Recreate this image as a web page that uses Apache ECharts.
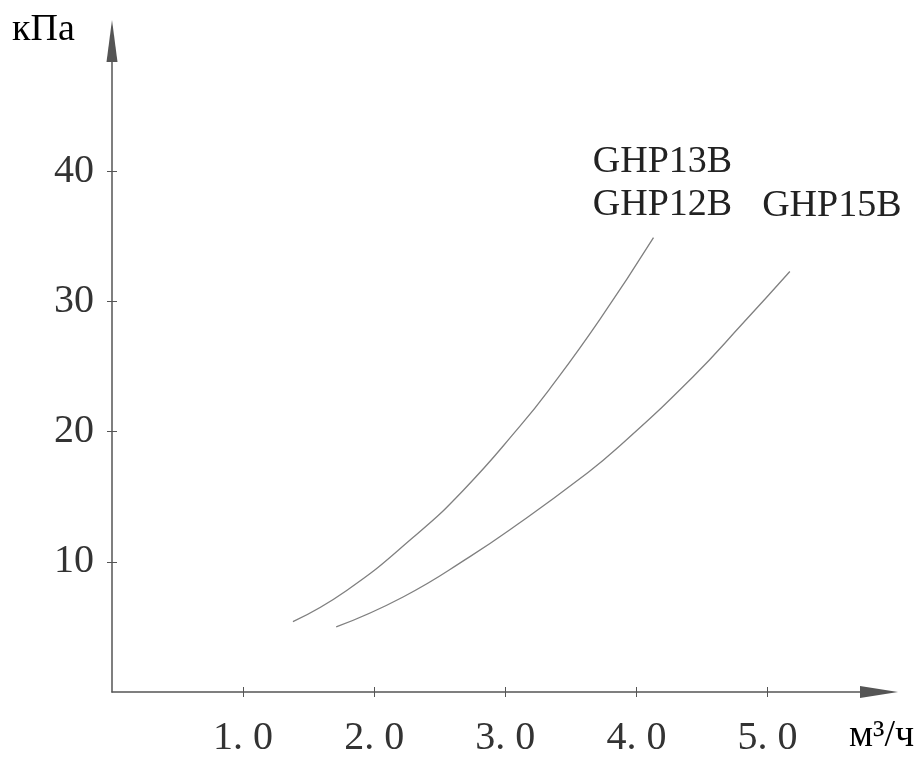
<!DOCTYPE html>
<html>
<head>
    <meta charset="utf-8">
    <title>GHP pressure curves</title>
    <script src="https://cdn.jsdelivr.net/npm/echarts@6/dist/echarts.min.js"></script>
</head>
<body style="margin:0;background:#fff;">
    <div id="main" style="width:924px;height:758px;"></div>
    <script type="text/javascript">
        // curve values (x: м3/ч, y: кПа)
        var ghp12Flow = [1.38, 1.79, 2.30, 2.68, 3.11, 3.34, 3.72, 4.13];
        var ghp12Head = [5.4, 7.8, 11.9, 15.5, 20.4, 23.3, 28.6, 34.9];
        var ghp15Flow = [1.71, 2.22, 2.73, 3.11, 3.57, 3.85, 4.43, 4.81, 5.17];
        var ghp15Head = [5.0, 7.3, 10.4, 13.0, 16.4, 18.7, 24.2, 28.3, 32.3];
        var xTicks = [1, 2, 3, 4, 5];
        var xTickLabels = ['1. 0', '2. 0', '3. 0', '4. 0', '5. 0'];
        var yTicks = [10, 20, 30, 40];
        var yTickLabels = ['10', '20', '30', '40'];

        function pairs(xs, ys) {
            var out = [];
            for (var i = 0; i < xs.length; i++) out.push([xs[i], ys[i]]);
            return out;
        }

        var serif = '"Liberation Serif", "DejaVu Serif", serif';
        var axisColor = '#555';
        var curveColor = '#808080';

        var myChart = echarts.init(document.getElementById('main'));
        var option = {
            backgroundColor: '#fff',
            animation: false,
            grid: { left: 112, right: 45, top: 41, bottom: 65.5 },
            xAxis: [
            {
                type: 'value', min: 0, max: 5.85,
                axisLine: { show: true, symbol: ['none', 'triangle'], symbolSize: [12, 38],
                    lineStyle: { color: axisColor, width: 1.5 } },
                axisTick: { show: true, customValues: xTicks, length: 5, lineStyle: { color: axisColor } },
                axisLabel: {
                    customValues: xTicks, margin: 26,
                    fontFamily: serif, fontSize: 40, color: '#333',
                    formatter: function (v) { return xTickLabels[xTicks.indexOf(Math.round(v))]; }
                },
                splitLine: { show: false }
            },
            {
                type: 'value', min: 0, max: 5.85, position: 'bottom',
                axisLine: { show: false },
                axisTick: { show: true, inside: true, customValues: xTicks, length: 5, lineStyle: { color: axisColor } },
                axisLabel: { show: false },
                splitLine: { show: false }
            }],
            yAxis: [
            {
                type: 'value', min: 0, max: 50,
                axisLine: { show: true, symbol: ['none', 'triangle'], symbolSize: [11, 42],
                    lineStyle: { color: axisColor, width: 1.5 } },
                axisTick: { show: true, customValues: yTicks, length: 5, lineStyle: { color: axisColor } },
                axisLabel: {
                    customValues: yTicks, margin: 18,
                    fontFamily: serif, fontSize: 40, color: '#333',
                    formatter: function (v) { return yTickLabels[yTicks.indexOf(Math.round(v))]; }
                },
                splitLine: { show: false }
            },
            {
                type: 'value', min: 0, max: 50, position: 'left',
                axisLine: { show: false },
                axisTick: { show: true, inside: true, customValues: yTicks, length: 5, lineStyle: { color: axisColor } },
                axisLabel: { show: false },
                splitLine: { show: false }
            }],
            graphic: [
                { type: 'text', left: 12, top: 11,
                  style: { text: 'кПа', font: '38px ' + serif, fill: '#000' } },
                { type: 'text', left: 849, top: 717,
                  style: { text: 'м³/ч', font: '38px ' + serif, fill: '#000' } }
            ],
            series: [
            {
                name: 'GHP12B',
                type: 'line',
                smooth: 0.5,
                symbol: 'none',
                lineStyle: { color: curveColor, width: 1.3 },
                data: pairs(ghp12Flow, ghp12Head),
                markPoint: {
                    symbol: 'circle', symbolSize: 0,
                    data: [{ coord: [ghp12Flow[ghp12Flow.length - 1], ghp12Head[ghp12Head.length - 1]] }],
                    label: {
                        show: true, position: 'top', distance: 5, offset: [9, -6],
                        formatter: 'GHP13B\nGHP12B', lineHeight: 43,
                        fontFamily: serif, fontSize: 38, color: '#222'
                    }
                }
            },
            {
                name: 'GHP15B',
                type: 'line',
                smooth: 0.5,
                symbol: 'none',
                lineStyle: { color: curveColor, width: 1.3 },
                data: pairs(ghp15Flow, ghp15Head),
                markPoint: {
                    symbol: 'circle', symbolSize: 0,
                    data: [{ coord: [ghp15Flow[ghp15Flow.length - 1], ghp15Head[ghp15Head.length - 1]] }],
                    label: {
                        show: true, position: 'top', distance: 5, offset: [42, -39],
                        formatter: 'GHP15B', lineHeight: 43,
                        fontFamily: serif, fontSize: 38, color: '#222'
                    }
                }
            }]
        };
        myChart.setOption(option);
    </script>
</body>
</html>
